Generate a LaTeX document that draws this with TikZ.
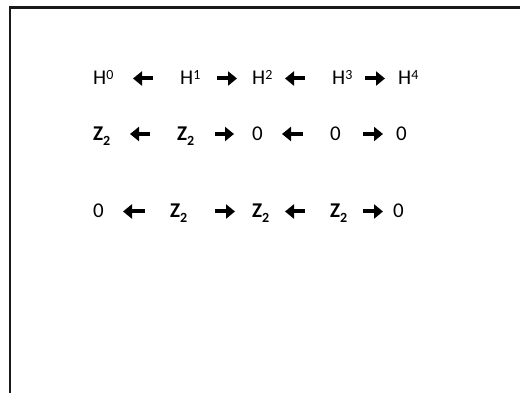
\documentclass[tikz,border=0pt]{standalone}
\usepackage{fontspec}
\setmainfont{Carlito}
\usetikzlibrary{arrows.meta}
\newcommand{\mysup}[1]{\raisebox{5pt}{\fontsize{14}{14}\selectfont #1}}
\newcommand{\mysub}[1]{\raisebox{-5pt}{\fontsize{14}{14}\selectfont #1}}
\begin{document}
\begin{tikzpicture}[x=1pt,y=-1pt,
  lbl/.style={inner sep=0pt, anchor=base west, font=\fontsize{21}{25}\selectfont},
  arr/.style={line width=4pt, -{Triangle[length=9pt,width=14pt]}},
  up/.style={yshift=6.5pt}]
\useasboundingbox (0,0) rectangle (520,393);
\draw[line width=2.2pt, black!90] (520,7.5) -- (10,7.5) -- (10,393);
% row 1
\node[lbl] (a0) at (93,85) {H\mysup{0}};
\node[lbl] (a1) at (180,85) {H\mysup{1}};
\node[lbl] (a2) at (252,85) {H\mysup{2}};
\node[lbl] (a3) at (332,85) {H\mysup{3}};
\node[lbl] (a4) at (398,85) {H\mysup{4}};
\draw[arr, shorten <=27pt, shorten >=40pt] ([up]a1.base west) -- ([up]a0.base west);
\draw[arr, shorten <=37pt, shorten >=15pt] ([up]a1.base west) -- ([up]a2.base west);
\draw[arr, shorten <=27pt, shorten >=33pt] ([up]a3.base west) -- ([up]a2.base west);
\draw[arr, shorten <=33pt, shorten >=13pt] ([up]a3.base west) -- ([up]a4.base west);
% row 2
\node[lbl] (b0) at (93,140.5) {\textbf{Z\mysub{2}}};
\node[lbl] (b1) at (177,140.5) {\textbf{Z\mysub{2}}};
\node[lbl] (b2) at (252,140.5) {0};
\node[lbl] (b3) at (330,140.5) {0};
\node[lbl] (b4) at (396,140.5) {0};
\draw[arr, shorten <=27pt, shorten >=37pt] ([up]b1.base west) -- ([up]b0.base west);
\draw[arr, shorten <=38pt, shorten >=18pt] ([up]b1.base west) -- ([up]b2.base west);
\draw[arr, shorten <=27pt, shorten >=30pt] ([up]b3.base west) -- ([up]b2.base west);
\draw[arr, shorten <=33pt, shorten >=13pt] ([up]b3.base west) -- ([up]b4.base west);
% row 3
\node[lbl] (c0) at (93,218) {0};
\node[lbl] (c1) at (170,218) {\textbf{Z\mysub{2}}};
\node[lbl] (c2) at (252,218) {\textbf{Z\mysub{2}}};
\node[lbl] (c3) at (330,218) {\textbf{Z\mysub{2}}};
\node[lbl] (c4) at (393,218) {0};
\draw[arr, shorten <=25pt, shorten >=30pt] ([up]c1.base west) -- ([up]c0.base west);
\draw[arr, shorten <=45pt, shorten >=17pt] ([up]c1.base west) -- ([up]c2.base west);
\draw[arr, shorten <=25pt, shorten >=33pt] ([up]c3.base west) -- ([up]c2.base west);
\draw[arr, shorten <=33pt, shorten >=10pt] ([up]c3.base west) -- ([up]c4.base west);
\end{tikzpicture}
\end{document}
